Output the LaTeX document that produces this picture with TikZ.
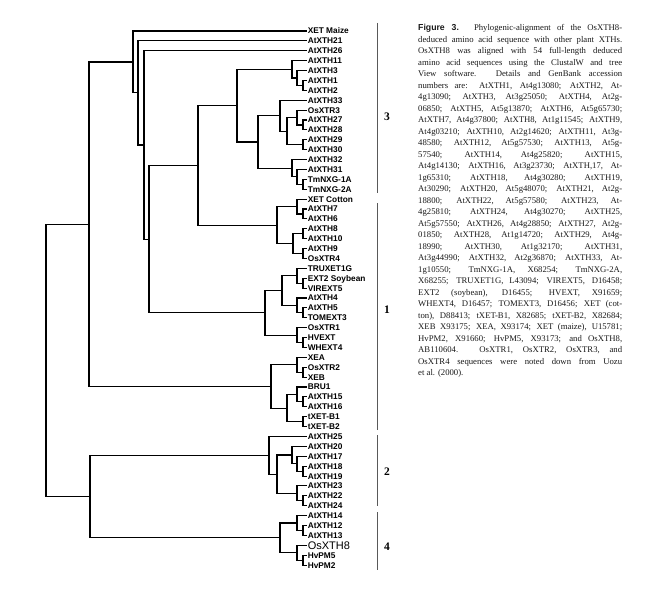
\documentclass[tikz,border=0pt]{standalone}
\usepackage{fontspec}
\setmainfont{Liberation Serif}
\setsansfont{Liberation Sans}

\begin{document}
\begin{tikzpicture}[x=1pt, y=-1pt,
  branch/.style={line width=1.1pt},
  leaf/.style={anchor=west, inner sep=0.6pt, text height=5.9pt, text depth=0pt,
    font=\sffamily\bfseries\fontsize{8.3}{9}\selectfont},
  bracket/.style={line width=1pt, black!65},
  group/.style={font=\bfseries\fontsize{11.5}{12}\selectfont},
  caption/.style={anchor=north west, inner sep=0pt, align=left, black!90,
    font=\fontsize{8.7}{11.5}\selectfont}]
  \useasboundingbox (0,0) rectangle (653,594);
  % leaves
  \foreach \name [count=\i] in {XET Maize, AtXTH21, AtXTH26, AtXTH11, AtXTH3, AtXTH1,
      AtXTH2, AtXTH33, OsXTR3, AtXTH27, AtXTH28, AtXTH29, AtXTH30, AtXTH32, AtXTH31,
      TmNXG-1A, TmNXG-2A, XET Cotton, AtXTH7, AtXTH6, AtXTH8, AtXTH10, AtXTH9, OsXTR4,
      TRUXET1G, EXT2 Soybean, VIREXT5, AtXTH4, AtXTH5, TOMEXT3, OsXTR1, HVEXT, WHEXT4,
      XEA, OsXTR2, XEB, BRU1, AtXTH15, AtXTH16, tXET-B1, tXET-B2, AtXTH25, AtXTH20,
      AtXTH17, AtXTH18, AtXTH19, AtXTH23, AtXTH22, AtXTH24, AtXTH14, AtXTH12, AtXTH13}
    \node[leaf] (L\i) at (307, {21.11+9.89*\i}) {\name};
  \node[leaf, font=\sffamily\fontsize{11}{12}\selectfont, text height=7.8pt] (L53) at (307, {21.11+9.89*53}) {OsXTH8};
  \node[leaf] (L54) at (307, {21.11+9.89*54}) {HvPM5};
  \node[leaf] (L55) at (307, {21.11+9.89*55}) {HvPM2};
  % branch points
  \coordinate (root) at (46,360.40);
  \coordinate (n89) at (89,224.19);
  \coordinate (n90) at (90,496.60);
  \coordinate (n133) at (133,61.96);
  \coordinate (n138) at (138,92.92);
  \coordinate (n144) at (144,144.95);
  \coordinate (n149) at (149,239.11);
  \coordinate (n198) at (198,165.37);
  \coordinate (n237) at (237,105.64);
  \coordinate (a4567) at (292,69.32);
  \coordinate (a567) at (297,77.98);
  \coordinate (a67) at (303,85.40);
  \coordinate (n258) at (258,141.95);
  \coordinate (b813) at (280,115.68);
  \coordinate (b913) at (287,131.13);
  \coordinate (b9) at (297,117.54);
  \coordinate (b1011) at (303,124.96);
  \coordinate (b1213) at (303,144.74);
  \coordinate (c1417) at (292,168.22);
  \coordinate (c1517) at (297,176.88);
  \coordinate (c1617) at (303,184.30);
  \coordinate (d1824) at (277,225.09);
  \coordinate (d1820) at (297,206.55);
  \coordinate (d1920) at (303,213.97);
  \coordinate (d2124) at (293,243.64);
  \coordinate (d2122) at (303,233.75);
  \coordinate (d2324) at (303,253.53);
  \coordinate (e2533) at (265,312.87);
  \coordinate (e2530) at (282,290.61);
  \coordinate (e2527) at (297,275.78);
  \coordinate (e2627) at (303,283.20);
  \coordinate (e2830) at (297,305.45);
  \coordinate (e2930) at (303,312.87);
  \coordinate (e3133) at (297,335.12);
  \coordinate (e3233) at (303,342.54);
  \coordinate (f3441) at (271,386.43);
  \coordinate (f3436) at (297,364.79);
  \coordinate (f3536) at (303,372.21);
  \coordinate (f3741) at (287,408.06);
  \coordinate (f3739) at (297,394.46);
  \coordinate (f3839) at (303,401.88);
  \coordinate (f4041) at (303,421.66);
  \coordinate (g4249) at (269,455.35);
  \coordinate (g4349) at (277,474.20);
  \coordinate (g4346) at (292,455.04);
  \coordinate (g4446) at (297,463.69);
  \coordinate (g4546) at (303,471.11);
  \coordinate (g4749) at (297,493.36);
  \coordinate (g4849) at (303,500.78);
  \coordinate (h5055) at (280,537.87);
  \coordinate (h5052) at (297,523.03);
  \coordinate (h5152) at (303,530.45);
  \coordinate (h5355) at (297,552.70);
  \coordinate (h5455) at (303,560.11);
  % tree
  \foreach \p/\a/\b in {root/n89/n90, n89/n133/f3441, n133/L1.west/n138,
      n138/L2.west/n144, n144/L3.west/n149, n149/n198/e2533, n198/n237/d1824,
      n237/a4567/n258, a4567/L4.west/a567, a567/L5.west/a67, a67/L6.west/L7.west,
      n258/b813/c1417, b813/L8.west/b913, b913/b9/b1213, b9/L9.west/b1011,
      b1011/L10.west/L11.west, b1213/L12.west/L13.west, c1417/L14.west/c1517,
      c1517/L15.west/c1617, c1617/L16.west/L17.west,
      d1824/d1820/d2124, d1820/L18.west/d1920, d1920/L19.west/L20.west,
      d2124/d2122/d2324, d2122/L21.west/L22.west, d2324/L23.west/L24.west,
      e2533/e2530/e3133, e2530/e2527/e2830, e2527/L25.west/e2627,
      e2627/L26.west/L27.west, e2830/L28.west/e2930, e2930/L29.west/L30.west,
      e3133/L31.west/e3233, e3233/L32.west/L33.west,
      f3441/f3436/f3741, f3436/L34.west/f3536, f3536/L35.west/L36.west,
      f3741/f3739/f4041, f3739/L37.west/f3839, f3839/L38.west/L39.west,
      f4041/L40.west/L41.west,
      n90/g4249/h5055, g4249/L42.west/g4349, g4349/g4346/g4749,
      g4346/L43.west/g4446, g4446/L44.west/g4546, g4546/L45.west/L46.west,
      g4749/L47.west/g4849, g4849/L48.west/L49.west,
      h5055/h5052/h5355, h5052/L50.west/h5152, h5152/L51.west/L52.west,
      h5355/L53.west/h5455, h5455/L54.west/L55.west}
    \draw[branch] (\p) |- (\a) (\p) |- (\b);
  % groups
  \draw[bracket] (377,23) -- (377,193);
  \draw[bracket] (377,203) -- (377,430);
  \draw[bracket] (377,435) -- (377,506);
  \draw[bracket] (377,512) -- (377,570);
  \node[group] (g3) at (387,117) {3};
  \node[group] (g1) at (387,310) {1};
  \node[group] (g2) at (387,472) {2};
  \node[group] (g4) at (387,547) {4};
  % legend text
  \node[caption] (cap) at (418,24) {%
    \makebox[204pt][s]{\textsf{\bfseries Figure 3.} Phylogenic-alignment of the OsXTH8-}\\
    \makebox[204pt][s]{deduced amino acid sequence with other plant XTHs.}\\
    \makebox[204pt][s]{OsXTH8 was aligned with 54 full-length deduced}\\
    \makebox[204pt][s]{amino acid sequences using the ClustalW and tree}\\
    \makebox[204pt][s]{View software. Details and GenBank accession}\\
    \makebox[204pt][s]{numbers are: AtXTH1, At4g13080; AtXTH2, At-}\\
    \makebox[204pt][s]{4g13090; AtXTH3, At3g25050; AtXTH4, At2g-}\\
    \makebox[204pt][s]{06850; AtXTH5, At5g13870; AtXTH6, At5g65730;}\\
    \makebox[204pt][s]{AtXTH7, At4g37800; AtXTH8, At1g11545; AtXTH9,}\\
    \makebox[204pt][s]{At4g03210; AtXTH10, At2g14620; AtXTH11, At3g-}\\
    \makebox[204pt][s]{48580; AtXTH12, At5g57530; AtXTH13, At5g-}\\
    \makebox[204pt][s]{57540; AtXTH14, At4g25820; AtXTH15,}\\
    \makebox[204pt][s]{At4g14130; AtXTH16, At3g23730; AtXTH,17, At-}\\
    \makebox[204pt][s]{1g65310; AtXTH18, At4g30280; AtXTH19,}\\
    \makebox[204pt][s]{At30290; AtXTH20, At5g48070; AtXTH21, At2g-}\\
    \makebox[204pt][s]{18800; AtXTH22, At5g57580; AtXTH23, At-}\\
    \makebox[204pt][s]{4g25810; AtXTH24, At4g30270; AtXTH25,}\\
    \makebox[204pt][s]{At5g57550; AtXTH26, At4g28850; AtXTH27, At2g-}\\
    \makebox[204pt][s]{01850; AtXTH28, At1g14720; AtXTH29, At4g-}\\
    \makebox[204pt][s]{18990; AtXTH30, At1g32170; AtXTH31,}\\
    \makebox[204pt][s]{At3g44990; AtXTH32, At2g36870; AtXTH33, At-}\\
    \makebox[204pt][s]{1g10550; TmNXG-1A, X68254; TmNXG-2A,}\\
    \makebox[204pt][s]{X68255; TRUXET1G, L43094; VIREXT5, D16458;}\\
    \makebox[204pt][s]{EXT2 (soybean), D16455; HVEXT, X91659;}\\
    \makebox[204pt][s]{WHEXT4, D16457; TOMEXT3, D16456; XET (cot-}\\
    \makebox[204pt][s]{ton), D88413; tXET-B1, X82685; tXET-B2, X82684;}\\
    \makebox[204pt][s]{XEB X93175; XEA, X93174; XET (maize), U15781;}\\
    \makebox[204pt][s]{HvPM2, X91660; HvPM5, X93173; and OsXTH8,}\\
    \makebox[204pt][s]{AB110604. OsXTR1, OsXTR2, OsXTR3, and}\\
    \makebox[204pt][s]{OsXTR4 sequences were noted down from Uozu}\\
    \makebox[204pt][l]{et al. (2000).}};
\end{tikzpicture}
\end{document}
